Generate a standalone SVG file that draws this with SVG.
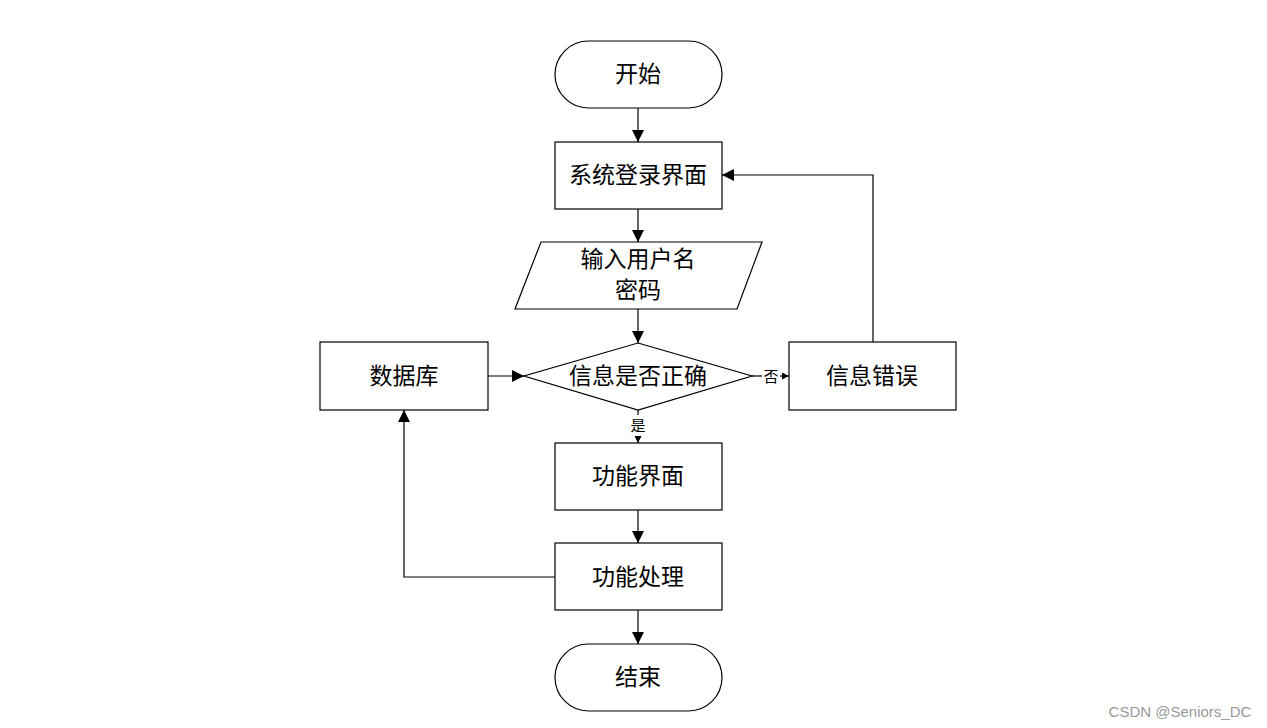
<svg xmlns="http://www.w3.org/2000/svg" width="1267" height="728" viewBox="0 0 1267 728">
<style>
.s{fill:#fff;stroke:#000;stroke-width:1.2}
.t{font-family:"Noto Sans CJK SC","Noto Sans",sans-serif;font-size:23px;fill:#000;text-anchor:middle;dominant-baseline:central}
.l{font-family:"Noto Sans CJK SC","Noto Sans",sans-serif;font-size:15px;fill:#000;text-anchor:middle;dominant-baseline:central}
.c{fill:none;stroke:#000;stroke-width:1.2}
</style>
<defs>
<marker id="a" markerWidth="12" markerHeight="12" refX="12" refY="6" orient="auto" markerUnits="userSpaceOnUse"><path d="M0,0 L12,6 L0,12 Z" fill="#000"/></marker>
<marker id="b" markerWidth="7" markerHeight="7" refX="7" refY="3.5" orient="auto" markerUnits="userSpaceOnUse"><path d="M0,0 L7,3.5 L0,7 Z" fill="#000"/></marker>
</defs>
<rect width="1267" height="728" fill="#fff"/>
<g id="connectors">
<path class="c" d="M638,108 V142" marker-end="url(#a)"/>
<path class="c" d="M638,209 V242" marker-end="url(#a)"/>
<path class="c" d="M638,309 V343" marker-end="url(#a)"/>
<path class="c" d="M638,410 V415"/>
<path class="c" d="M638,436 V443" marker-end="url(#b)"/>
<path class="c" d="M752,376 H762"/>
<path class="c" d="M780,376 H789" marker-end="url(#b)"/>
<path class="c" d="M873,342 V175 H722" marker-end="url(#a)"/>
<path class="c" d="M488,376 H524" marker-end="url(#a)"/>
<path class="c" d="M638,510 V543" marker-end="url(#a)"/>
<path class="c" d="M638,610 V644" marker-end="url(#a)"/>
<path class="c" d="M555,577 H404 V410" marker-end="url(#a)"/>
<text class="l" x="638" y="424">是</text>
<text class="l" x="771" y="375">否</text>
</g>
<g id="start"><rect class="s" x="555" y="41" width="167" height="67" rx="33.5"/><text class="t" x="638" y="72">开始</text></g>
<g id="login"><rect class="s" x="555" y="142" width="167" height="67"/><text class="t" x="638" y="173">系统登录界面</text></g>
<g id="input"><polygon class="s" points="541,242 762,242 737,309 515,309"/><text class="t" x="638" y="257">输入用户名</text><text class="t" x="638" y="288">密码</text></g>
<g id="check"><polygon class="s" points="638,343 752,376 638,410 524,376"/><text class="t" x="638" y="374">信息是否正确</text></g>
<g id="db"><rect class="s" x="320" y="342" width="168" height="68"/><text class="t" x="404" y="374">数据库</text></g>
<g id="error"><rect class="s" x="789" y="342" width="167" height="68"/><text class="t" x="872" y="374">信息错误</text></g>
<g id="func"><rect class="s" x="555" y="443" width="167" height="67"/><text class="t" x="638" y="474">功能界面</text></g>
<g id="proc"><rect class="s" x="555" y="543" width="167" height="67"/><text class="t" x="638" y="575">功能处理</text></g>
<g id="end"><rect class="s" x="555" y="644" width="167" height="67" rx="33.5"/><text class="t" x="638" y="675">结束</text></g>
<text x="1180" y="711" font-family="Liberation Sans,Arial,sans-serif" font-size="15" fill="#999" text-anchor="middle" dominant-baseline="central">CSDN @Seniors_DC</text>
</svg>
